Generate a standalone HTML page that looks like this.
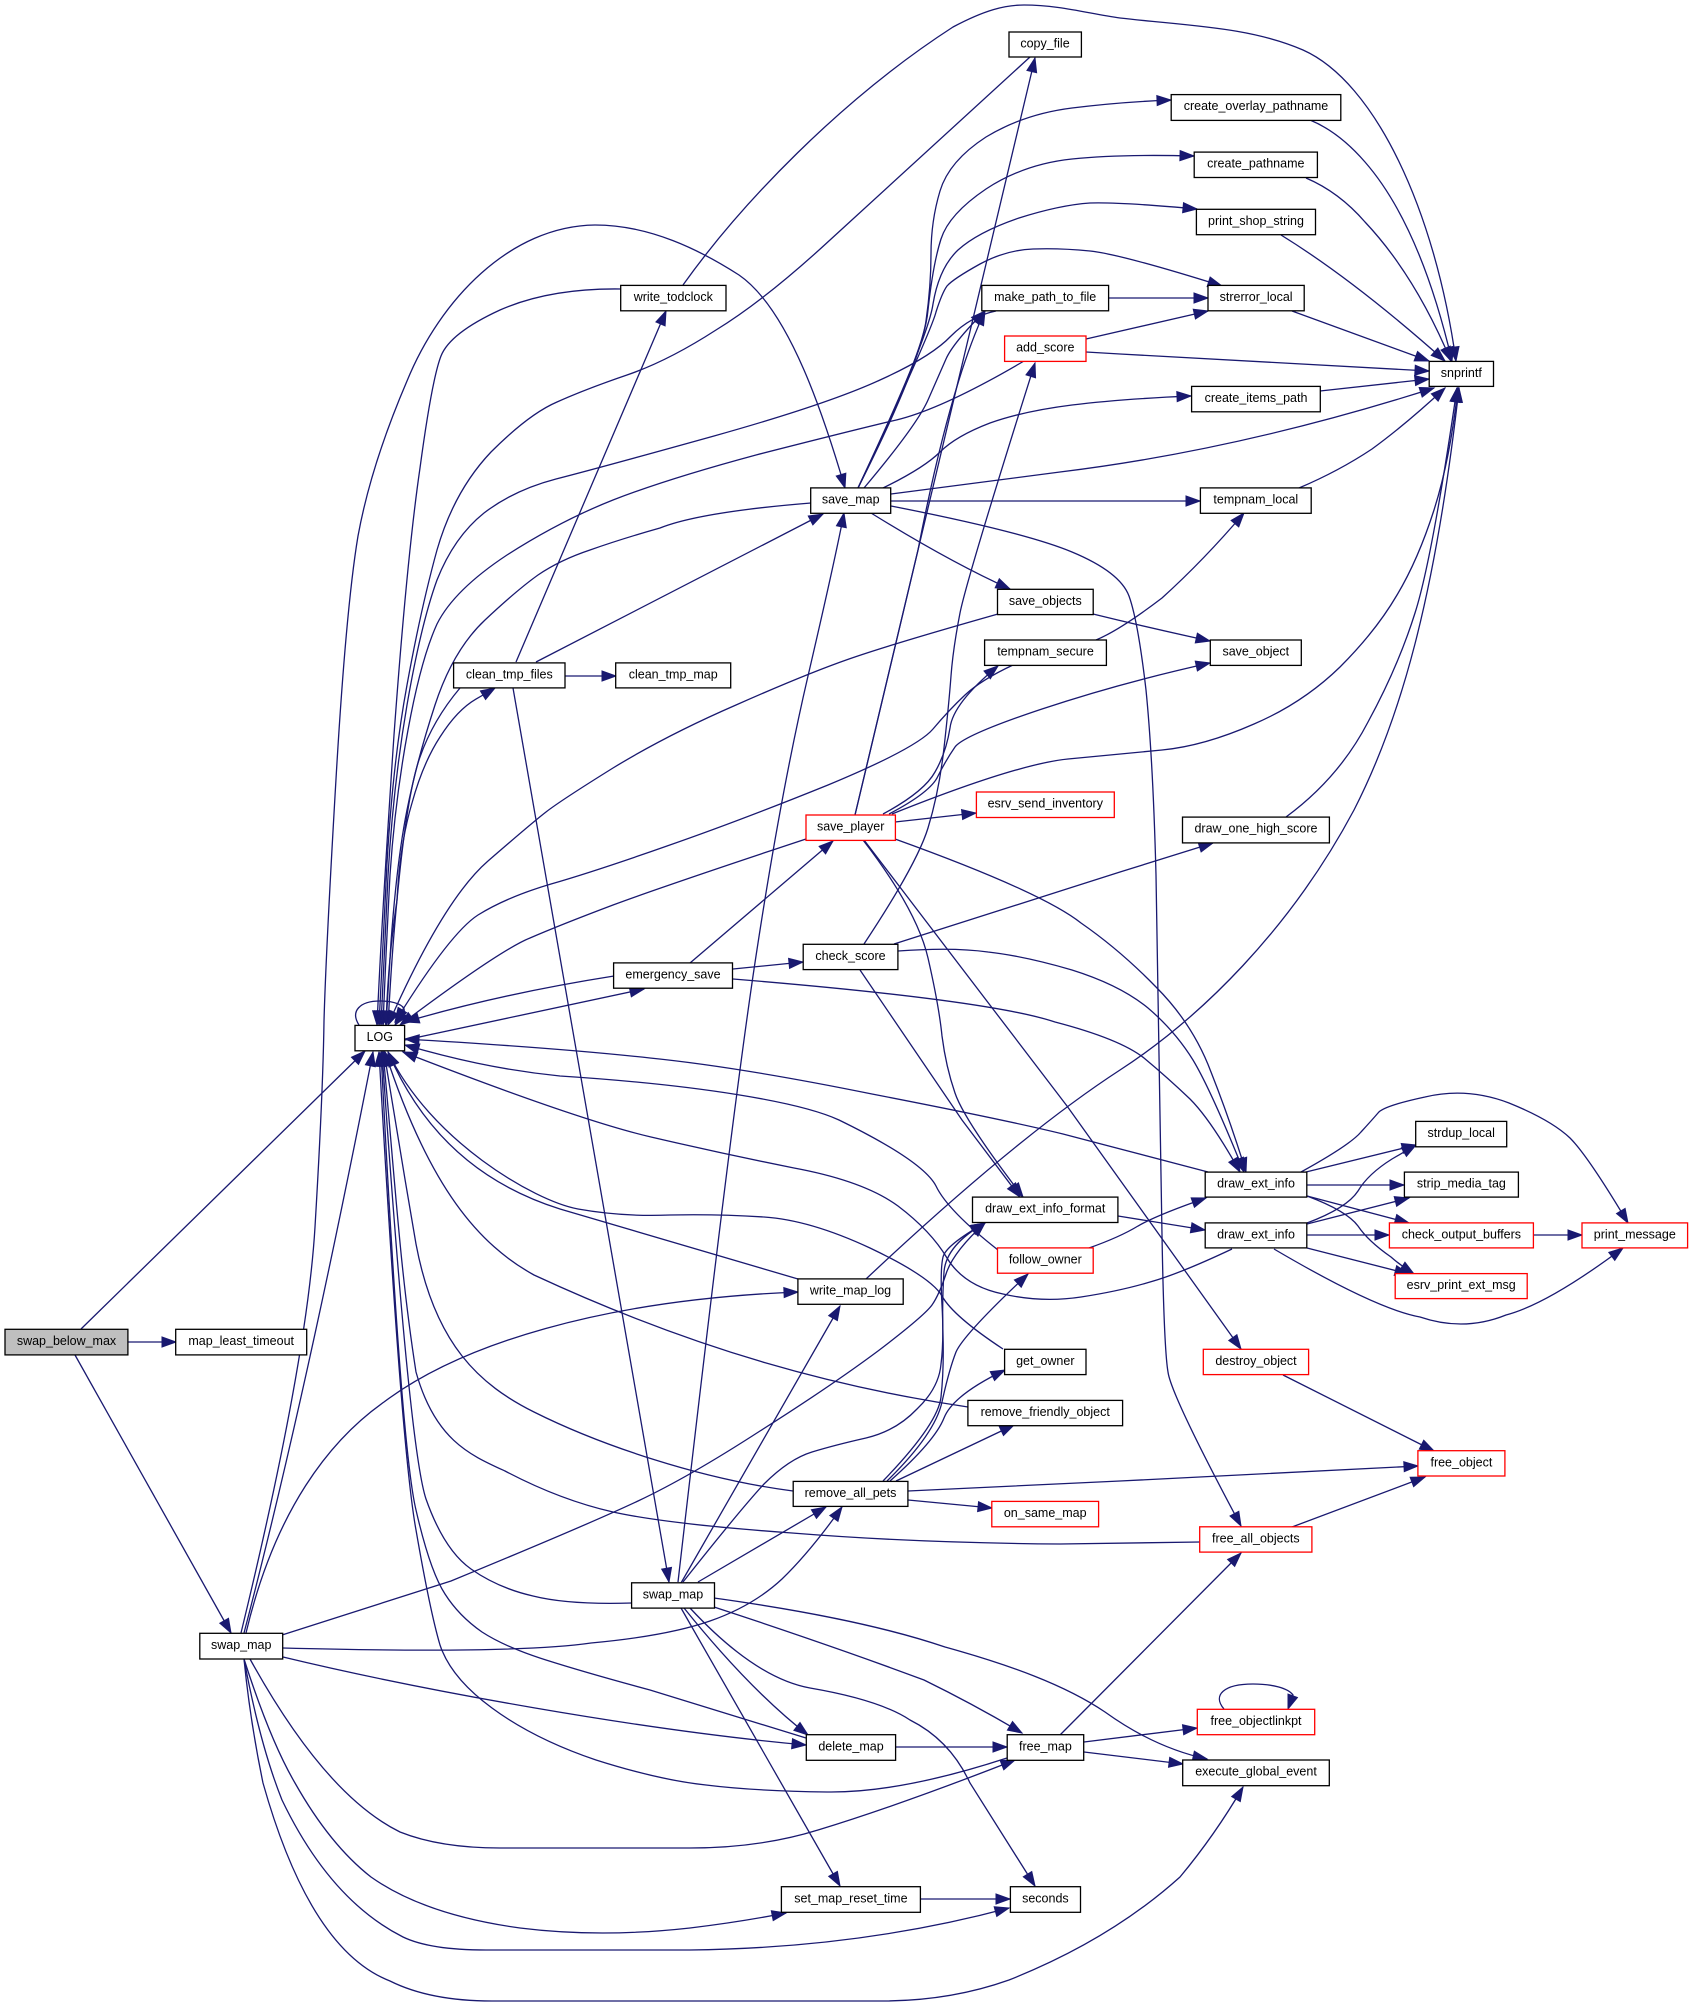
<!DOCTYPE html>
<html>
<head>
<meta charset="utf-8">
<title>swap_below_max call graph</title>
<style>
html,body{margin:0;padding:0;background:#fff;}
svg{display:block;}
.e path{fill:none;stroke:#191970;stroke-width:1.3;marker-end:url(#a);}
.n rect{fill:#fff;stroke:#000;stroke-width:1.3;}
.n rect.r{stroke:#f00;}
.n rect.g{fill:#bfbfbf;}
.n text{font-family:"Liberation Sans",sans-serif;font-size:12.5px;text-anchor:middle;fill:#000;}
</style>
</head>
<body>
<svg xmlns="http://www.w3.org/2000/svg" width="1693" height="2006" viewBox="0 0 1693 2006">
<defs>
<marker id="a" markerUnits="userSpaceOnUse" markerWidth="16" markerHeight="12" refX="14" refY="5" orient="auto" overflow="visible">
<path d="M0,0 L14,5 L0,10 z" fill="#191970" stroke="#191970" stroke-width="1"/>
</marker>
</defs>
<g class="e">
<path d="M81 1329 L365 1051"/>
<path d="M128 1342 L176 1342"/>
<path d="M75 1355 L231 1633"/>
<path d="M359 1025 C350 1011 360 1001 380 1001 C394 1001 406 1005 404 1012 L395 1025"/>
<path d="M621 289 Q550 288 500 310 Q450 333 441 356 Q432 379 420 468 Q407 557 394 735 Q382 914 377 1025"/>
<path d="M1030 57 L830 240 Q765 300 716 330 Q668 361 627 375 Q586 389 557 402 Q529 414 491 452 Q454 491 437 550 Q421 608 407 685 Q393 761 387 863 Q382 965 379 1025"/>
<path d="M996 311 Q971 316 951 336 Q931 357 880 380 Q828 404 714 436 Q599 468 556 479 Q514 490 484 513 Q454 537 437 580 Q421 624 407 705 Q393 787 388 876 Q384 965 381 1025"/>
<path d="M1024 361 Q939 411 892 421 Q846 432 756 455 Q667 479 613 500 Q560 521 507 555 Q454 590 437 624 Q421 659 408 730 Q395 800 390 875 Q386 950 383 1025"/>
<path d="M811 503 Q700 512 660 528 Q621 539 590 550 Q560 560 538 575 Q517 590 485 620 Q453 650 435 705 Q417 760 407 810 Q397 860 391 942 L386 1025"/>
<path d="M460 688 Q433 720 420 757 Q407 793 397 900 Q388 960 386 1025"/>
<path d="M388 1025 Q392 950 397 900 Q400 843 412 803 Q423 763 440 737 Q457 710 476 699 Q485 694 495 688"/>
<path d="M998 614 Q892 644 849 659 Q806 674 736 705 Q667 735 613 768 Q560 801 546 812 Q533 822 488 861 Q443 900 388 1025"/>
<path d="M1013 665 Q981 680 965 695 Q949 710 933 729 Q917 748 828 785 Q739 821 667 846 Q596 871 551 884 Q507 897 478 915 Q450 933 395 1022"/>
<path d="M806 839 Q667 885 613 905 Q560 925 530 938 Q500 950 400 1025"/>
<path d="M614 976 Q500 994 405 1022"/>
<path d="M405 1040 L644 989"/>
<path d="M1208 1172 Q1120 1149 1063 1134 Q1006 1120 872 1094 Q739 1067 650 1058 Q560 1048 405 1039"/>
<path d="M1232 1249 Q1179 1274 1150 1282 Q1120 1291 1081 1297 Q1042 1303 1003 1294 Q964 1286 947 1258 Q931 1231 898 1206 Q864 1181 794 1168 Q724 1154 651 1137 Q578 1120 403 1052"/>
<path d="M998 1250 C970 1228 945 1205 936 1186 C925 1165 880 1140 839 1120 C800 1102 700 1085 560 1076 C500 1070 450 1058 405 1045"/>
<path d="M1003 1349 Q953 1316 942 1296 Q931 1277 870 1248 Q810 1220 764 1217 Q717 1214 670 1215 Q623 1217 578 1209 C534 1201 430 1140 388 1052"/>
<path d="M798 1279 L560 1209 C500 1190 430 1150 388 1052"/>
<path d="M968 1407 C840 1388 700 1352 534 1275 C480 1245 430 1190 385 1052"/>
<path d="M793 1491 C700 1479 600 1445 534 1412 C480 1385 435 1345 416 1244 C405 1180 395 1120 384 1052"/>
<path d="M1200 1542 L1060 1544 Q917 1543 792 1533 Q667 1524 613 1512 Q560 1500 505 1471 C470 1455 435 1440 416 1372 C400 1270 395 1180 383 1052"/>
<path d="M632 1603 Q569 1605 533 1596 Q498 1588 471 1569 Q444 1550 426 1499 Q409 1448 382 1052"/>
<path d="M806 1738 L650 1690 Q587 1673 546 1660 Q505 1647 482 1632 Q459 1616 445 1594 Q430 1571 416 1510 Q401 1448 381 1052"/>
<path d="M1007 1758 Q900 1793 827 1792 Q754 1791 706 1785 Q659 1780 596 1760 Q534 1739 492 1708 Q451 1678 440 1645 Q430 1611 416 1530 Q401 1448 379 1052"/>
<path d="M244 1633 Q305 1400 373 1052"/>
<path d="M241 1633 Q307 1361 315 1227 Q323 1093 324 1021 Q326 950 336 779 Q346 608 358 536 Q371 465 407 381 C440 300 510 226 595 225 C650 225 700 250 739 275 C790 310 825 420 845 488"/>
<path d="M246 1633 C275 1510 330 1440 384 1402 C460 1345 600 1300 798 1292"/>
<path d="M282 1635 L451 1581 Q587 1525 638 1501 Q689 1477 760 1431 Q831 1386 878 1351 Q924 1316 932 1305 Q939 1295 946 1274 Q953 1252 985 1223"/>
<path d="M283 1648 Q516 1654 591 1643 Q667 1636 710 1621 Q753 1606 782 1579 Q810 1552 842 1507"/>
<path d="M283 1657 C420 1690 640 1730 806 1745"/>
<path d="M250 1659 Q325 1795 400 1832 Q440 1848 500 1848 L690 1848 Q760 1848 818 1830 Q900 1805 1015 1760"/>
<path d="M244 1659 Q270 1740 295 1783 Q330 1845 371 1877 Q425 1915 520 1928 Q600 1938 690 1928 Q740 1922 786 1913"/>
<path d="M244 1659 Q260 1745 282 1800 Q330 1900 403 1937 Q430 1950 486 1950 L690 1950 Q860 1948 1009 1908"/>
<path d="M244 1659 Q250 1720 263 1783 Q310 1950 390 1981 Q430 2001 492 2001 L882 2001 Q950 2001 1009 1980 Q1110 1940 1180 1877 Q1215 1835 1243 1787"/>
<path d="M513 688 L669 1582"/>
<path d="M678 1582 Q731 1120 756 956 Q781 792 808 676 Q835 560 844 513"/>
<path d="M681 1583 L840 1306"/>
<path d="M683 1582 Q740 1510 764 1484 Q789 1459 812 1452 Q835 1445 866 1438 Q896 1431 917 1409 Q939 1388 941 1364 Q944 1341 942 1305 Q940 1270 943 1257 Q946 1245 985 1223"/>
<path d="M698 1582 L826 1507"/>
<path d="M714 1598 C800 1610 880 1625 945 1647 C1010 1665 1065 1685 1105 1712 C1130 1730 1165 1750 1207 1759"/>
<path d="M714 1607 Q830 1645 924 1680 Q975 1705 1022 1733"/>
<path d="M684 1608 Q750 1690 808 1735"/>
<path d="M690 1608 Q755 1678 810 1688 Q880 1700 910 1720 Q950 1740 970 1783 L1035 1886"/>
<path d="M681 1608 L840 1886"/>
<path d="M516 662 L666 311"/>
<path d="M536 662 L823 514"/>
<path d="M565 676 L616 676"/>
<path d="M683 285 C740 205 840 100 953 27 C985 10 1005 5 1024 5 C1060 5 1090 14 1120 18 C1190 26 1250 27 1303 50 C1375 82 1435 210 1456 361"/>
<path d="M858 488 Q921 357 926 321 Q931 286 931 254 Q931 221 940 191 Q949 161 986 137 Q1024 114 1072 108 Q1120 102 1171 100"/>
<path d="M858 488 Q924 357 928 310 Q933 264 941 239 Q949 214 986 189 Q1024 164 1072 159 Q1120 154 1194 156"/>
<path d="M858 488 Q928 339 933 304 Q939 268 958 250 Q978 232 1019 218 Q1060 205 1090 203 Q1120 202 1197 209"/>
<path d="M858 488 Q931 332 936 312 Q942 293 947 286 Q953 279 980 264 Q1006 250 1033 249 Q1060 248 1090 251 Q1120 254 1222 286"/>
<path d="M864 488 Q917 425 928 400 Q939 375 946 359 Q953 343 985 311"/>
<path d="M883 488 Q924 468 940 452 Q956 436 990 423 Q1024 411 1072 405 Q1120 399 1191 396"/>
<path d="M891 494 L1060 472 Q1240 450 1434 388"/>
<path d="M891 501 L1200 501"/>
<path d="M891 506 Q1024 532 1072 552 Q1120 572 1129 596 Q1138 621 1146 690 Q1153 760 1156 875 Q1158 989 1159 1055 Q1160 1120 1162 1235 Q1164 1349 1168 1372 Q1171 1395 1241 1526"/>
<path d="M871 513 Q950 562 1010 589"/>
<path d="M1093 614 Q1150 628 1210 641"/>
<path d="M883 814 Q924 792 935 772 Q946 753 950 728 Q953 703 998 666"/>
<path d="M889 814 Q931 792 938 776 Q946 760 955 747 Q964 735 1042 709 Q1120 683 1210 663"/>
<path d="M892 814 Q1017 764 1068 759 Q1120 754 1162 750 Q1204 746 1254 724 Q1303 703 1340 667 Q1376 631 1397 595 Q1418 560 1434 510 Q1450 460 1458 388"/>
<path d="M855 815 L1035 58"/>
<path d="M855 815 L918 550 Q950 385 985 311"/>
<path d="M1286 817 Q1339 778 1368 722 Q1398 667 1415 613 Q1432 560 1457 388"/>
<path d="M866 1279 C950 1200 1040 1122 1120 1070 C1200 1018 1290 930 1354 810 C1400 720 1435 600 1459 388"/>
<path d="M895 822 L976 813"/>
<path d="M895 839 Q1042 892 1081 923 Q1120 950 1156 987 Q1193 1024 1211 1072 Q1230 1120 1246 1172"/>
<path d="M864 840 L1067 1106 L1241 1349"/>
<path d="M863 840 Q917 910 928 958 Q939 1006 942 1036 Q946 1067 955 1093 Q964 1120 1023 1197"/>
<path d="M860 970 L962 1120 L1020 1197"/>
<path d="M864 944 Q917 864 928 828 Q939 792 944 748 Q949 703 951 676 Q953 649 960 613 Q967 578 1035 363"/>
<path d="M894 944 L1120 872 L1213 843"/>
<path d="M898 951 Q953 947 988 952 Q1024 956 1072 970 Q1120 985 1148 1008 Q1175 1031 1193 1060 Q1211 1090 1244 1172"/>
<path d="M733 979 Q989 1000 1055 1022 Q1120 1039 1144 1058 Q1168 1078 1190 1099 Q1211 1120 1240 1172"/>
<path d="M690 963 L833 841"/>
<path d="M733 969 L803 962"/>
<path d="M1089 1248 Q1120 1237 1138 1226 Q1157 1215 1206 1198"/>
<path d="M1118 1216 L1205 1230"/>
<path d="M1301 1172 Q1350 1145 1361 1132 Q1372 1120 1378 1113 Q1383 1106 1425 1097 Q1467 1087 1509 1103 Q1551 1120 1570 1138 Q1588 1156 1628 1223"/>
<path d="M1306 1172 L1416 1145"/>
<path d="M1307 1185 L1404 1185"/>
<path d="M1307 1196 L1409 1223"/>
<path d="M1307 1196 Q1347 1211 1358 1226 Q1368 1241 1391 1257 Q1400 1265 1414 1274"/>
<path d="M1307 1223 Q1347 1208 1358 1191 Q1368 1174 1392 1159 Q1404 1152 1416 1145"/>
<path d="M1307 1224 L1409 1198"/>
<path d="M1307 1235 L1389 1235"/>
<path d="M1307 1248 L1409 1274"/>
<path d="M1274 1249 Q1376 1309 1420 1317 Q1464 1332 1506 1315 Q1548 1304 1623 1248"/>
<path d="M1533 1235 L1582 1235"/>
<path d="M1283 1375 L1434 1451"/>
<path d="M908 1491 L1120 1481 L1418 1466"/>
<path d="M908 1500 L992 1508"/>
<path d="M896 1481 L1014 1425"/>
<path d="M890 1481 Q935 1441 944 1418 Q953 1395 1005 1370"/>
<path d="M887 1481 Q935 1434 942 1402 Q949 1370 956 1352 Q964 1334 1028 1274"/>
<path d="M883 1481 Q938 1424 941 1397 Q944 1370 943 1335 Q942 1300 944 1272 Q946 1245 985 1223"/>
<path d="M1292 1527 L1425 1477"/>
<path d="M1060 1735 L1241 1553"/>
<path d="M896 1747 L1007 1747"/>
<path d="M1084 1742 L1197 1728"/>
<path d="M1084 1752 L1183 1764"/>
<path d="M1224 1709 C1212 1695 1224 1684 1253 1684 C1272 1684 1288 1688 1293 1695 L1288 1709"/>
<path d="M920 1899 L1010 1899"/>
<path d="M1109 298 L1208 298"/>
<path d="M1086 339 L1208 311"/>
<path d="M1086 352 L1120 354 L1429 371"/>
<path d="M1292 311 L1429 361"/>
<path d="M1320 391 L1429 379"/>
<path d="M1299 488 Q1339 471 1372 449 Q1405 425 1445 388"/>
<path d="M1096 640 Q1120 630 1162 598 Q1204 560 1244 513"/>
<path d="M1310 120 Q1339 132 1365 162 Q1420 225 1452 361"/>
<path d="M1306 178 Q1339 192 1365 222 Q1415 275 1451 361"/>
<path d="M1281 235 Q1354 280 1445 361"/>
</g>
<g class="n">
<rect class="g" x="5" y="1329.3" width="122.9" height="25.6"/><text x="66.5" y="1345">swap_below_max</text>
<rect x="175.7" y="1329.3" width="131" height="25.6"/><text x="241.2" y="1345">map_least_timeout</text>
<rect x="355" y="1025.4" width="49.6" height="25.4"/><text x="379.8" y="1041">LOG</text>
<rect x="1009" y="32" width="72.4" height="25"/><text x="1045" y="47.6">copy_file</text>
<rect x="620.7" y="285.4" width="105.3" height="25.4"/><text x="673.3" y="301">write_todclock</text>
<rect x="981.8" y="285.4" width="126.8" height="25.4"/><text x="1045.2" y="301">make_path_to_file</text>
<rect class="r" x="1004.6" y="336" width="81.4" height="25.4"/><text x="1045.3" y="351.6">add_score</text>
<rect x="810.7" y="487.9" width="80" height="25.4"/><text x="850.7" y="503.5">save_map</text>
<rect x="1171.2" y="94.6" width="169.6" height="25.8"/><text x="1256" y="110.2">create_overlay_pathname</text>
<rect x="1194.2" y="152.1" width="123.2" height="25.4"/><text x="1255.8" y="167.7">create_pathname</text>
<rect x="1196.4" y="209.3" width="119.1" height="25.4"/><text x="1256" y="224.9">print_shop_string</text>
<rect x="1208" y="285.4" width="96.2" height="25.4"/><text x="1256.1" y="301">strerror_local</text>
<rect x="1429.2" y="361.4" width="64.3" height="25"/><text x="1461.3" y="377">snprintf</text>
<rect x="1191.6" y="386.4" width="128.7" height="25.4"/><text x="1256" y="402">create_items_path</text>
<rect x="1200.4" y="487.9" width="110.8" height="25.4"/><text x="1255.8" y="503.5">tempnam_local</text>
<rect x="615.7" y="662.9" width="115" height="25"/><text x="673.2" y="678.5">clean_tmp_map</text>
<rect x="453.6" y="662.9" width="111.4" height="25"/><text x="509.3" y="678.5">clean_tmp_files</text>
<rect x="997.5" y="589.3" width="95.7" height="25.3"/><text x="1045.3" y="604.9">save_objects</text>
<rect x="984.6" y="640" width="121.8" height="25.4"/><text x="1045.5" y="655.6">tempnam_secure</text>
<rect x="1210.3" y="640" width="91" height="25.4"/><text x="1255.8" y="655.6">save_object</text>
<rect class="r" x="806" y="815" width="89.4" height="25.4"/><text x="850.7" y="830.6">save_player</text>
<rect class="r" x="976.4" y="792" width="137.9" height="25.5"/><text x="1045.3" y="807.6">esrv_send_inventory</text>
<rect x="1182.5" y="817.1" width="146.9" height="25.8"/><text x="1256" y="832.7">draw_one_high_score</text>
<rect x="803.2" y="944.3" width="94.7" height="25.3"/><text x="850.5" y="959.9">check_score</text>
<rect x="613.6" y="962.9" width="118.9" height="25.3"/><text x="673" y="978.5">emergency_save</text>
<rect x="1415.7" y="1121.4" width="91" height="25.4"/><text x="1461.2" y="1137">strdup_local</text>
<rect x="1205.2" y="1172.1" width="101.6" height="25"/><text x="1256" y="1187.7">draw_ext_info</text>
<rect x="1404.4" y="1172.1" width="114" height="25"/><text x="1461.4" y="1187.7">strip_media_tag</text>
<rect x="972.5" y="1197.1" width="145.4" height="25.4"/><text x="1045.2" y="1212.7">draw_ext_info_format</text>
<rect x="1205.2" y="1222.9" width="101.6" height="25"/><text x="1256" y="1238.5">draw_ext_info</text>
<rect class="r" x="1389.4" y="1222.9" width="144" height="25"/><text x="1461.4" y="1238.5">check_output_buffers</text>
<rect class="r" x="1582" y="1222.9" width="105.6" height="25"/><text x="1634.8" y="1238.5">print_message</text>
<rect class="r" x="997.5" y="1247.9" width="95.7" height="25.3"/><text x="1045.3" y="1263.5">follow_owner</text>
<rect class="r" x="1395.2" y="1273.6" width="132" height="25"/><text x="1461.2" y="1289.2">esrv_print_ext_msg</text>
<rect x="797.9" y="1278.9" width="105.3" height="25.4"/><text x="850.5" y="1294.5">write_map_log</text>
<rect x="1004.6" y="1349.3" width="81.4" height="25.3"/><text x="1045.3" y="1364.9">get_owner</text>
<rect class="r" x="1203.3" y="1349.3" width="105.3" height="25.3"/><text x="1256" y="1364.9">destroy_object</text>
<rect x="967.9" y="1400.4" width="154.7" height="25.3"/><text x="1045.2" y="1416">remove_friendly_object</text>
<rect class="r" x="1417.9" y="1450.7" width="87" height="25.3"/><text x="1461.4" y="1466.3">free_object</text>
<rect x="793.2" y="1481.4" width="114.7" height="25"/><text x="850.5" y="1497">remove_all_pets</text>
<rect class="r" x="991.8" y="1501.4" width="106.8" height="25.4"/><text x="1045.2" y="1517">on_same_map</text>
<rect class="r" x="1199.7" y="1526.8" width="112.2" height="25.3"/><text x="1255.8" y="1542.4">free_all_objects</text>
<rect x="631.6" y="1582.8" width="82.9" height="25.3"/><text x="673" y="1598.4">swap_map</text>
<rect x="199.8" y="1633.3" width="82.9" height="25.7"/><text x="241.2" y="1649">swap_map</text>
<rect class="r" x="1197.3" y="1709.3" width="117.4" height="25.4"/><text x="1256" y="1725">free_objectlinkpt</text>
<rect x="806.3" y="1734.7" width="89.3" height="25.6"/><text x="851" y="1750.4">delete_map</text>
<rect x="1007.2" y="1734.7" width="76.5" height="25.6"/><text x="1045.4" y="1750.4">free_map</text>
<rect x="1182.7" y="1760" width="146.6" height="25.7"/><text x="1256" y="1775.7">execute_global_event</text>
<rect x="781.4" y="1886.7" width="139" height="25.6"/><text x="850.9" y="1902.4">set_map_reset_time</text>
<rect x="1010.4" y="1886.7" width="70.1" height="25.6"/><text x="1045.4" y="1902.4">seconds</text>
</g>
</svg>
</body>
</html>
